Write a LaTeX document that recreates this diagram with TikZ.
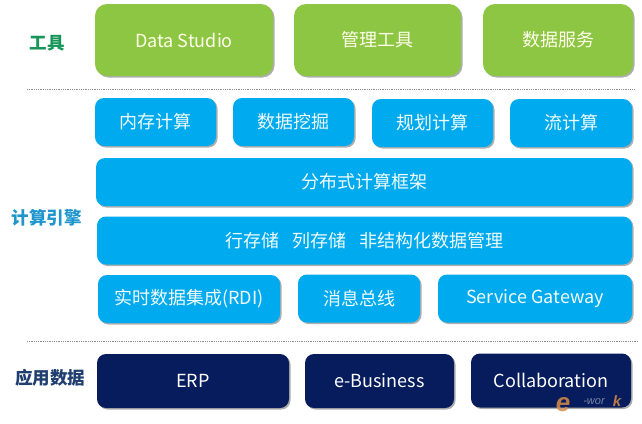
\documentclass[tikz,border=0pt]{standalone}
\usepackage{fontspec}
\setmainfont{Noto Sans CJK SC}
\newfontfamily\markfont{Liberation Sans}
\usetikzlibrary{shadows}
\definecolor{toolgreen}{RGB}{141,198,67}
\definecolor{calcblue}{RGB}{0,170,238}
\definecolor{appnavy}{RGB}{6,28,92}
\definecolor{toollabel}{RGB}{24,150,90}
\definecolor{calclabel}{RGB}{30,150,205}
\definecolor{applabel}{RGB}{32,62,112}
\definecolor{markorange}{RGB}{214,140,70}
\tikzset{
  basebox/.style={draw=none,align=center,inner sep=0pt,font=\fontsize{18}{21}\selectfont,
    drop shadow={shadow xshift=1.5pt,shadow yshift=-1.5pt,opacity=0.45,fill=black!70}},
  toolbox/.style={basebox,fill=toolgreen,text=white!92!yellow,rounded corners=12pt,minimum height=72pt},
  calcbox/.style={basebox,fill=calcblue,text=white!95!cyan,rounded corners=9pt,minimum height=48pt},
  appbox/.style={basebox,fill=appnavy,text=white,rounded corners=9pt,minimum height=54pt},
  sidelabel/.style={inner sep=0pt,font=\fontsize{17.5}{20}\selectfont\bfseries},
  sepline/.style={densely dotted,draw=black!45,line width=0.8pt},
  marktext/.style={inner sep=0pt,text opacity=0.85}
}
\begin{document}
\begin{tikzpicture}[x=1pt,y=-1pt]
\useasboundingbox (0,0) rectangle (642,423);

\node[sidelabel,text=toollabel] (tool) at (47,43) {工具};
\node[sidelabel,text=calclabel] (calc) at (47,218) {计算引擎};
\node[sidelabel,text=applabel] (app) at (50,378) {应用数据};

\node[toolbox,minimum width=178pt] (studio) at (184,40) {Data Studio};
\node[toolbox,minimum width=167pt] (manage) at (377.5,40) {管理工具};
\node[toolbox,minimum width=150pt] (service) at (558,40) {数据服务};

\coordinate (sepa) at (27,89);
\coordinate (sepb) at (635,89);
\draw[sepline] (sepa) -- (sepb);

\node[calcbox,minimum width=121pt] (memory) at (155.5,122) {内存计算};
\node[calcbox,minimum width=121pt] (mining) at (293.5,122) {数据挖掘};
\node[calcbox,minimum width=121pt] (plan) at (432.5,123) {规划计算};
\node[calcbox,minimum width=122pt] (stream) at (571,123) {流计算};

\node[calcbox,minimum width=536pt] (frame) at (364,182) {分布式计算框架};
\node[calcbox,minimum width=535pt] (store) at (364.5,240.5) {行存储\hspace{13pt}列存储\hspace{13pt}非结构化数据管理};

\node[calcbox,minimum width=182pt] (rdi) at (189,299) {实时数据集成(RDI)};
\node[calcbox,minimum width=122pt] (bus) at (359,298.5) {消息总线};
\node[calcbox,minimum width=194pt] (gateway) at (535,298.5) {Service Gateway};

\coordinate (sepc) at (27,341);
\coordinate (sepd) at (638,341);
\draw[sepline] (sepc) -- (sepd);

\node[appbox,minimum width=192pt] (erp) at (193,381) {ERP};
\node[appbox,minimum width=149pt] (business) at (379.5,381) {e-Business};
\node[appbox,minimum width=160pt] (collab) at (551,380.5) {Collaboration};

% watermark
\node[marktext,text=markorange,font=\markfont\bfseries\itshape\fontsize{26}{26}\selectfont] (marke) at (563,405) {e};
\node[marktext,text=white!55!appnavy,font=\markfont\itshape\fontsize{11}{11}\selectfont] (markw) at (594,402) {-wor};
\node[marktext,text=markorange,font=\markfont\bfseries\itshape\fontsize{15}{15}\selectfont] (markk) at (617,401) {k};
\end{tikzpicture}
\end{document}
